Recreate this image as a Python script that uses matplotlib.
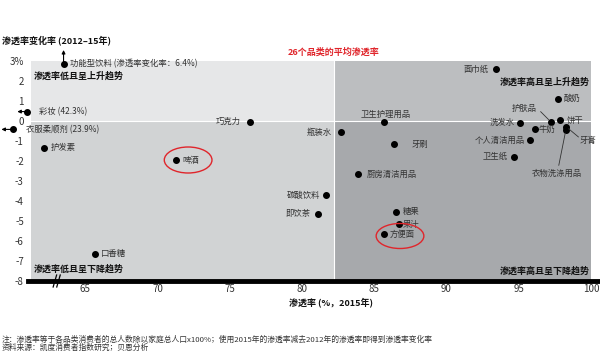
import matplotlib
matplotlib.use('Agg')
import matplotlib.pyplot as plt
from matplotlib.patches import Rectangle, Ellipse

plt.rcParams['font.family'] = ['Noto Sans CJK SC', 'DejaVu Sans']

# data: penetration 2015 (%), change 2012-15 (pp)
names = ['功能型饮料 (渗透率变化率：6.4%)', '彩妆 (42.3%)', '衣服柔顺剂 (23.9%)', '护发素', '啤酒',
         '口香糖', '巧克力', '瓶装水', '卫生护理用品', '牙刷', '厨房清洁用品', '碳酸饮料',
         '即饮茶', '糖果', '果汁', '方便面', '面巾纸', '酸奶', '护肤品', '饼干', '洗发水',
         '牛奶', '牙膏', '衣物洗涤用品', '个人清洁用品', '卫生纸']
penetration = [63.5, 61.0, 60.0, 62.15, 71.3, 65.65, 76.4, 82.7, 85.7, 86.35, 83.9, 81.65,
               81.1, 86.5, 86.7, 85.65, 93.45, 97.7, 97.2, 97.85, 95.05, 96.1, 98.3, 98.25,
               95.75, 94.65]
change = [2.85, 0.47, -0.42, -1.33, -1.97, -6.63, -0.03, -0.55, -0.03, -1.17, -2.67, -3.7,
          -4.63, -4.53, -5.15, -5.67, 2.58, 1.12, -0.03, 0.05, -0.08, -0.42, -0.3, -0.47,
          -0.97, -1.8]
avg_penetration = 82.2
xticks = [65, 70, 75, 80, 85, 90, 95, 100]
yticks = [3, 2, 1, 0, -1, -2, -3, -4, -5, -6, -7, -8]
ytick_labels = ['3%', '2', '1', '0', '-1', '-2', '-3', '-4', '-5', '-6', '-7', '-8']

# label placement (offset pixels, alignment)
label_pos = {
    '功能型饮料 (渗透率变化率：6.4%)': (6, 0, 'left'), '彩妆 (42.3%)': (12, 0, 'left'),
    '衣服柔顺剂 (23.9%)': (13, 0, 'left'), '护发素': (7, 0, 'left'), '啤酒': (6, 0, 'left'),
    '口香糖': (6, 0, 'left'), '巧克力': (-9, 0, 'right'), '瓶装水': (-9, 0, 'right'),
    '卫生护理用品': (1, 7, 'center'), '牙刷': (18, 0, 'left'), '厨房清洁用品': (8, 0, 'left'),
    '碳酸饮料': (-6, 0, 'right'), '即饮茶': (-7, 0, 'right'), '糖果': (7, 0, 'left'),
    '果汁': (4, 0, 'left'), '方便面': (6, 0, 'left'), '面巾纸': (-8, 0, 'right'),
    '酸奶': (6, 0, 'left'), '护肤品': (-26, 13, 'center'), '饼干': (7, 0, 'left'),
    '洗发水': (-5, 0, 'right'), '牛奶': (4, 0, 'left'), '牙膏': (13, -13, 'left'),
    '衣物洗涤用品': (-9, -43, 'center'), '个人清洁用品': (-5, 0, 'right'),
    '卫生纸': (-6, 0, 'right'),
}
leaders = {'护肤品': (-10, 10), '牙膏': (12, -10), '衣物洗涤用品': (-7, -35)}

fig = plt.figure(figsize=(6, 3.57), dpi=100)
ax = fig.add_axes([28 / 600, 76 / 357, 570 / 600, 220 / 357])
xmin, xmax = 61.04, 100.48
ax.set_xlim(xmin, xmax)
ax.set_ylim(-8, 3)

gl = 61.26
ax.add_patch(Rectangle((gl, 0), avg_penetration - gl, 3, color='#e6e7e8', lw=0, zorder=0))
ax.add_patch(Rectangle((gl, -8), avg_penetration - gl, 8, color='#d1d3d4', lw=0, zorder=0))
ax.add_patch(Rectangle((avg_penetration, 0), 100 - avg_penetration, 3, color='#bcbec0', lw=0, zorder=0))
ax.add_patch(Rectangle((avg_penetration, -8), 100 - avg_penetration, 8, color='#a7a9ac', lw=0, zorder=0))
ax.plot([gl, 100], [0, 0], color='white', lw=0.8, zorder=1)
ax.plot([avg_penetration, avg_penetration], [-8, 3], color='white', lw=0.8, zorder=1)

for s in ['top', 'right', 'left']:
    ax.spines[s].set_visible(False)
ax.spines['bottom'].set_linewidth(3.5)
ax.spines['bottom'].set_color('black')
ax.set_xticks(xticks)
ax.set_yticks(yticks)
ax.set_yticklabels(ytick_labels)
ax.tick_params(length=0, labelsize=7, colors='#333333')
ax.tick_params(axis='x', pad=2)
ax.tick_params(axis='y', pad=3)

ax.plot(penetration, change, 'o', color='black', ms=4, clip_on=False, zorder=3)

for n, x, y in zip(names, penetration, change):
    dx, dy, ha = label_pos[n]
    ax.annotate(n, (x, y), xytext=(dx, dy), textcoords='offset pixels', ha=ha, va='center',
                fontsize=6, color='#333333', annotation_clip=False)
    if n in leaders:
        lx, ly = leaders[n]
        ax.annotate('', (x, y), xytext=(lx, ly), textcoords='offset pixels',
                    arrowprops=dict(arrowstyle='-', color='#333333', lw=0.6, shrinkA=0, shrinkB=2))

# arrows for off-chart values
ax.annotate('', (63.5, 3.55), xytext=(63.5, 2.95), arrowprops=dict(arrowstyle='-|>', color='black', lw=0.8,
            mutation_scale=5, shrinkA=0, shrinkB=0), annotation_clip=False)
ax.annotate('', (60.3, 0.47), xytext=(60.85, 0.47), arrowprops=dict(arrowstyle='-|>', color='black', lw=0.8,
            mutation_scale=5, shrinkA=0, shrinkB=0), annotation_clip=False)
ax.annotate('', (59.2, -0.42), xytext=(59.85, -0.42), arrowprops=dict(arrowstyle='-|>', color='black', lw=0.8,
            mutation_scale=5, shrinkA=0, shrinkB=0), annotation_clip=False)

# highlight ellipses
ax.add_patch(Ellipse((72.12, -1.95), 3.3, 1.3, fill=False, ec='#e0252b', lw=1, zorder=4))
ax.add_patch(Ellipse((86.78, -5.75), 3.3, 1.25, fill=False, ec='#e0252b', lw=1, zorder=4))

# axis break
for bx in [62.9, 63.15]:
    ax.plot([bx - 0.12, bx + 0.12], [-8.3, -7.7], color='black', lw=0.9, clip_on=False, zorder=5)

qkw = dict(fontsize=6.5, fontweight='bold', color='#111111')
ax.text(61.45, 2.25, '渗透率低且呈上升趋势', ha='left', va='center', **qkw)
ax.text(99.9, 1.95, '渗透率高且呈上升趋势', ha='right', va='center', **qkw)
ax.text(61.45, -7.4, '渗透率低且呈下降趋势', ha='left', va='center', **qkw)
ax.text(99.9, -7.5, '渗透率高且呈下降趋势', ha='right', va='center', **qkw)
ax.text(avg_penetration, 3.45, '26个品类的平均渗透率', ha='center', va='center', fontsize=6.5,
        fontweight='bold', color='#e0252b')

fig.text(2 / 600, 1 - 40 / 357, '渗透率变化率 (2012–15年)', ha='left', va='center', fontsize=6.5,
         fontweight='bold', color='#111111')
fig.text(331 / 600, 1 - 302 / 357, '渗透率 (%，2015年)', ha='center', va='center', fontsize=6.5,
         fontweight='bold', color='#111111')
fig.text(2 / 600, 1 - 340 / 357,
         '注：渗透率等于各品类消费者的总人数除以家庭总人口x100%；使用2015年的渗透率减去2012年的渗透率即得到渗透率变化率',
         ha='left', va='center', fontsize=5.6, color='#333333')
fig.text(2 / 600, 1 - 348 / 357, '资料来源：凯度消费者指数研究；贝恩分析', ha='left', va='center',
         fontsize=5.6, color='#333333')

fig.savefig('out.png', dpi=100)
